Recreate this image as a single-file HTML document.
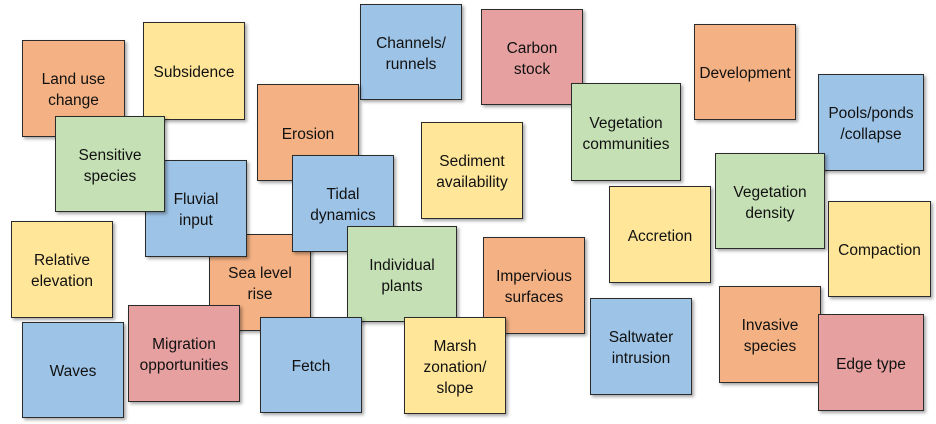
<!DOCTYPE html>
<html><head><style>
body{margin:0;width:936px;height:424px;background:#fff;position:relative;overflow:hidden;font-family:"Liberation Sans",sans-serif}
.n{position:absolute;box-sizing:border-box;border:1.5px solid #2b2b2b;box-shadow:2px 2px 3px rgba(0,0,0,.35);display:flex;align-items:center;justify-content:center;text-align:center;font-size:15.5px;line-height:21px;color:#111;padding-top:3px}
.o{background:#f4b183}.y{background:#ffe699}.b{background:#9dc3e6}.g{background:#c5e0b4}.r{background:#e6a0a0}
</style></head><body>
<div class="n o" style="left:22px;top:40px;width:103px;height:97px">Land use<br>change</div>
<div class="n y" style="left:143px;top:22px;width:102px;height:98px">Subsidence</div>
<div class="n b" style="left:360px;top:4px;width:102px;height:96px">Channels/<br>runnels</div>
<div class="n r" style="left:481px;top:9px;width:102px;height:96px">Carbon<br>stock</div>
<div class="n o" style="left:694px;top:24px;width:102px;height:96px">Development</div>
<div class="n b" style="left:818px;top:74px;width:106px;height:97px">Pools/ponds<br>/collapse</div>
<div class="n o" style="left:257px;top:84px;width:102px;height:97px">Erosion</div>
<div class="n o" style="left:209px;top:234px;width:102px;height:97px">Sea level<br>rise</div>
<div class="n b" style="left:145px;top:160px;width:102px;height:97px">Fluvial<br>input</div>
<div class="n g" style="left:55px;top:116px;width:110px;height:96px">Sensitive<br>species</div>
<div class="n g" style="left:571px;top:83px;width:110px;height:98px">Vegetation<br>communities</div>
<div class="n y" style="left:421px;top:122px;width:102px;height:97px">Sediment<br>availability</div>
<div class="n b" style="left:292px;top:155px;width:102px;height:97px">Tidal<br>dynamics</div>
<div class="n g" style="left:715px;top:153px;width:110px;height:96px">Vegetation<br>density</div>
<div class="n y" style="left:609px;top:186px;width:102px;height:97px">Accretion</div>
<div class="n y" style="left:828px;top:201px;width:103px;height:96px">Compaction</div>
<div class="n y" style="left:11px;top:221px;width:102px;height:97px">Relative<br>elevation</div>
<div class="n g" style="left:347px;top:226px;width:110px;height:96px">Individual<br>plants</div>
<div class="n o" style="left:483px;top:237px;width:102px;height:97px">Impervious<br>surfaces</div>
<div class="n b" style="left:22px;top:322px;width:102px;height:96px">Waves</div>
<div class="n r" style="left:128px;top:305px;width:112px;height:97px">Migration<br>opportunities</div>
<div class="n b" style="left:260px;top:317px;width:102px;height:96px">Fetch</div>
<div class="n y" style="left:404px;top:317px;width:102px;height:97px">Marsh<br>zonation/<br>slope</div>
<div class="n b" style="left:590px;top:298px;width:102px;height:97px">Saltwater<br>intrusion</div>
<div class="n o" style="left:719px;top:286px;width:102px;height:97px">Invasive<br>species</div>
<div class="n r" style="left:818px;top:314px;width:106px;height:97px">Edge type</div>
</body></html>
